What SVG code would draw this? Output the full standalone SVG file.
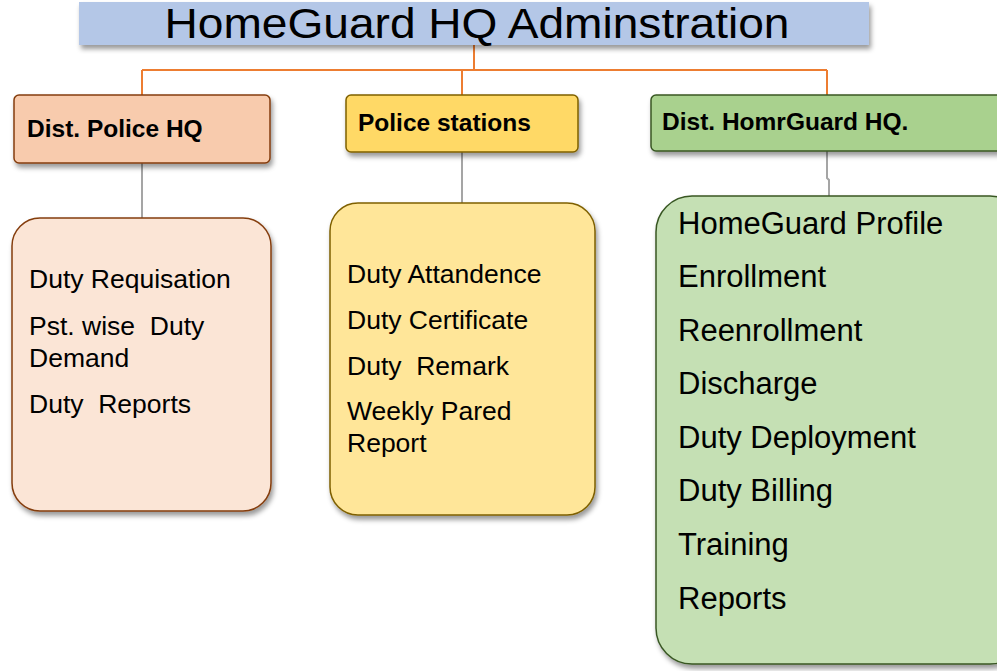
<svg xmlns="http://www.w3.org/2000/svg" width="997" height="671" viewBox="0 0 997 671">
<defs>
<filter id="sh" x="-10%" y="-10%" width="130%" height="130%">
<feDropShadow dx="2" dy="4" stdDeviation="2.5" flood-color="#000" flood-opacity="0.4"/>
</filter>
<style>
.t{font-family:"Liberation Sans",Arial,sans-serif;fill:#000;white-space:pre}
.hd{font-size:24.5px;font-weight:bold}
.it{font-size:26.5px}
.ig{font-size:31px}
.org{stroke:#ed7d31;stroke-width:2;fill:none}
.gry{stroke:#a5a5a5;stroke-width:2;fill:none}
</style>
</defs>
<rect width="997" height="671" fill="#fff"/>
<g id="connectors">
<path class="org" d="M474 45V70M142 70H827M142 70V95M462 70V95M827 70V95"/>
<path class="gry" d="M142 163V218M462 152V203M827 151V178L829 180V196"/>
</g>
<g id="title">
<rect x="79" y="2" width="790" height="43" fill="#b4c7e7" filter="url(#sh)"/>
<text class="t" x="477" y="38" font-size="42" text-anchor="middle" textLength="625" lengthAdjust="spacingAndGlyphs">HomeGuard HQ Adminstration</text>
</g>
<g id="dist-police-hq">
<rect x="14" y="95" width="256" height="68" rx="5" fill="#f8cbad" stroke="#843c0c" stroke-width="1.5" filter="url(#sh)"/>
<text class="t hd" x="27" y="137">Dist. Police HQ</text>
</g>
<g id="police-stations">
<rect x="346" y="95" width="232" height="57" rx="5" fill="#ffd966" stroke="#7f6000" stroke-width="1.5" filter="url(#sh)"/>
<text class="t hd" x="358" y="131">Police stations</text>
</g>
<g id="dist-homeguard-hq">
<rect x="651" y="95" width="360" height="56" rx="5" fill="#a9d18e" stroke="#385723" stroke-width="1.5" filter="url(#sh)"/>
<text class="t hd" x="662" y="130">Dist. HomrGuard HQ.</text>
</g>
<g id="police-hq-items">
<rect x="12" y="218" width="259" height="293" rx="28" fill="#fbe5d6" stroke="#843c0c" stroke-width="1.5" filter="url(#sh)"/>
<text class="t it" x="29" y="288">Duty Requisation</text>
<text class="t it" x="29" y="335">Pst. wise  Duty</text>
<text class="t it" x="29" y="367">Demand</text>
<text class="t it" x="29" y="413">Duty  Reports</text>
</g>
<g id="station-items">
<rect x="330" y="203" width="265" height="312" rx="28" fill="#ffe699" stroke="#7f6000" stroke-width="1.5" filter="url(#sh)"/>
<text class="t it" x="347" y="283">Duty Attandence</text>
<text class="t it" x="347" y="329">Duty Certificate</text>
<text class="t it" x="347" y="375">Duty  Remark</text>
<text class="t it" x="347" y="420">Weekly Pared</text>
<text class="t it" x="347" y="452">Report</text>
</g>
<g id="homeguard-items">
<rect x="656" y="196" width="370" height="468" rx="36" fill="#c5e0b4" stroke="#385723" stroke-width="1.5" filter="url(#sh)"/>
<text class="t ig" x="678" y="234">HomeGuard Profile</text>
<text class="t ig" x="678" y="287">Enrollment</text>
<text class="t ig" x="678" y="341">Reenrollment</text>
<text class="t ig" x="678" y="394">Discharge</text>
<text class="t ig" x="678" y="448">Duty Deployment</text>
<text class="t ig" x="678" y="501">Duty Billing</text>
<text class="t ig" x="678" y="555">Training</text>
<text class="t ig" x="678" y="609">Reports</text>
</g>
</svg>
